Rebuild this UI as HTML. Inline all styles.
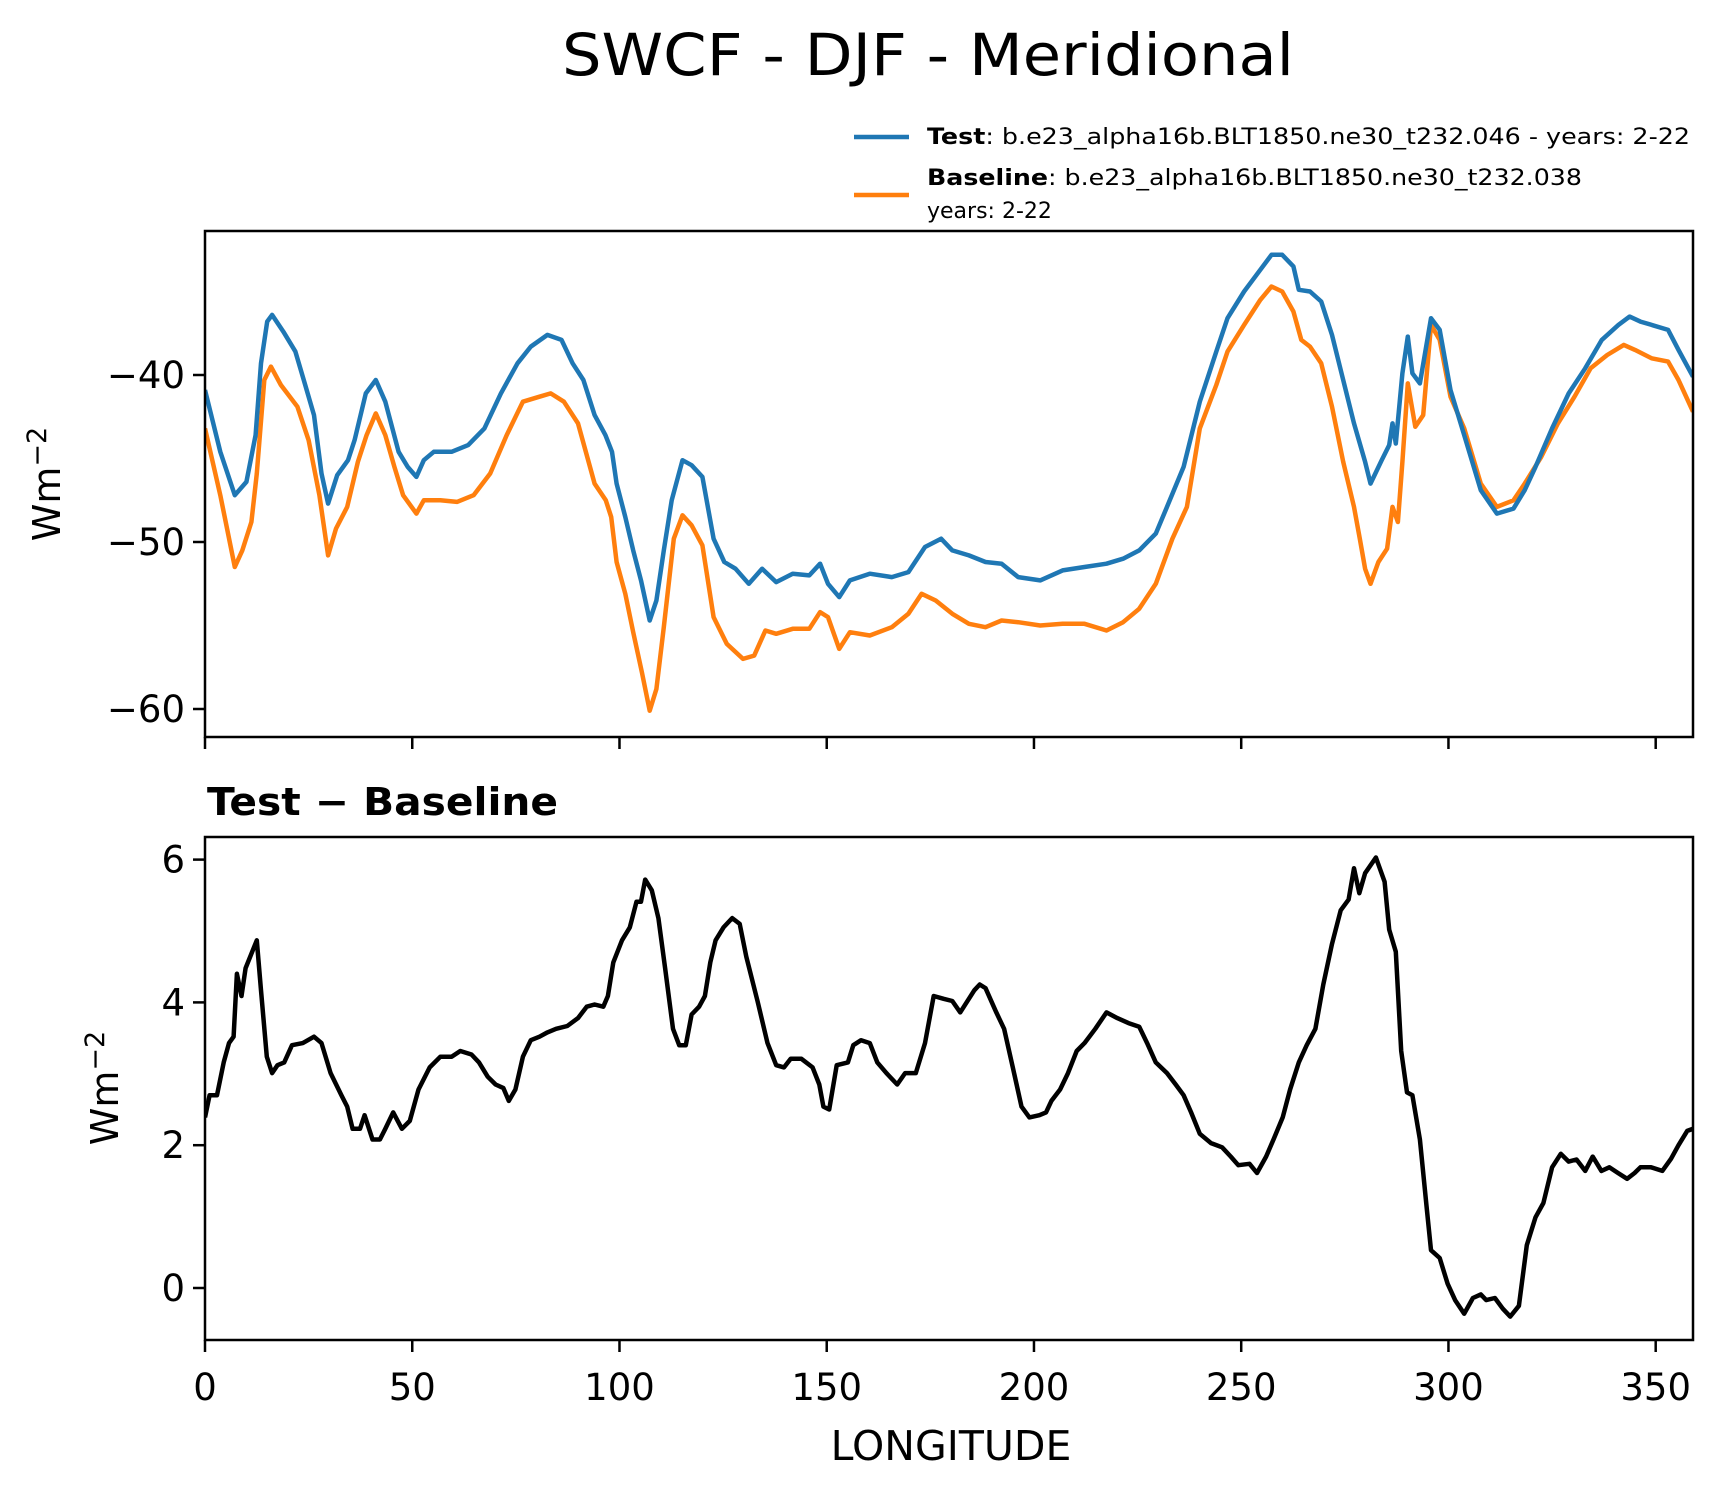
<!DOCTYPE html>
<html><head><meta charset="utf-8"><style>
html,body{margin:0;padding:0;background:#fff;}
svg{display:block;font-family:"DejaVu Sans","Liberation Sans",sans-serif;}
</style></head><body>
<svg id="chart" width="1726" height="1496" viewBox="0 0 1726 1496" xmlns="http://www.w3.org/2000/svg">
<text x="928" y="75" text-anchor="middle" font-size="58" textLength="732" lengthAdjust="spacingAndGlyphs">SWCF - DJF - Meridional</text>
<g>
<line x1="854" y1="137" x2="909" y2="137" stroke="#1f77b4" stroke-width="4.5"/>
<text x="927" y="144" font-size="22" textLength="763" lengthAdjust="spacingAndGlyphs"><tspan font-weight="bold">Test</tspan>: b.e23_alpha16b.BLT1850.ne30_t232.046 - years: 2-22</text>
<line x1="854" y1="195" x2="909" y2="195" stroke="#ff7f0e" stroke-width="4.5"/>
<text x="927" y="185" font-size="22" textLength="655" lengthAdjust="spacingAndGlyphs"><tspan font-weight="bold">Baseline</tspan>: b.e23_alpha16b.BLT1850.ne30_t232.038</text>
<text x="927" y="218" font-size="22">years: 2-22</text>
</g>
<g id="topPanel"></g>
<g id="botPanel"></g>
<text x="207" y="815" font-size="38" font-weight="bold" textLength="351" lengthAdjust="spacingAndGlyphs">Test − Baseline</text>
<text x="951" y="1460" text-anchor="middle" font-size="41">LONGITUDE</text>
<text transform="translate(60,484) rotate(-90)" text-anchor="middle" font-size="38">Wm<tspan dy="-14" font-size="27">−2</tspan></text>
<text transform="translate(118,1088) rotate(-90)" text-anchor="middle" font-size="38">Wm<tspan dy="-14" font-size="27">−2</tspan></text>
</svg>
<script>
const testLon=[0,3.7,7.2,10,12.2,13.5,15,16.2,18.9,21.8,23.6,26.3,28.1,29.7,31.9,34.5,36.1,38.8,41.2,43.5,46.7,48.9,51,52.8,55.2,59.5,63.5,67.4,71.4,75.4,78.6,82.6,86,88.7,91.3,94,96.6,98.2,99.3,101.4,103.3,105.2,107.3,108.9,110.7,112.6,115.2,117.4,120,122.7,125.3,128,131.2,134.4,137.8,141.8,145.8,148.4,150.3,153,155.6,160.4,165.7,169.7,173.7,177.6,180.3,184.3,188.3,192.2,196.2,201.5,206.9,212.2,217.5,221.5,225.4,229.4,232.1,236.1,240,244,246.7,250.7,254.6,257.3,259.9,262.6,263.9,266.6,269.3,271.9,274.6,277.2,279.9,281.2,283.9,285.7,286.5,287.3,288.9,290.2,291.3,293.1,295.8,297.9,300.5,303.8,307.8,311.7,315.7,318.4,321,325,329,333,337,341,343.7,346.3,349,353,355.5,359];
const testVal=[-40.9,-44.6,-47.2,-46.4,-43.6,-39.3,-36.8,-36.4,-37.4,-38.6,-40.1,-42.4,-45.9,-47.7,-46,-45.1,-43.9,-41.1,-40.3,-41.6,-44.6,-45.5,-46.1,-45.1,-44.6,-44.6,-44.2,-43.2,-41.1,-39.3,-38.3,-37.6,-37.9,-39.3,-40.3,-42.4,-43.6,-44.6,-46.5,-48.5,-50.5,-52.3,-54.7,-53.5,-50.5,-47.5,-45.1,-45.4,-46.1,-49.8,-51.2,-51.6,-52.5,-51.6,-52.4,-51.9,-52,-51.3,-52.5,-53.3,-52.3,-51.9,-52.1,-51.8,-50.3,-49.8,-50.5,-50.8,-51.2,-51.3,-52.1,-52.3,-51.7,-51.5,-51.3,-51,-50.5,-49.5,-47.9,-45.5,-41.6,-38.6,-36.6,-35,-33.7,-32.8,-32.8,-33.5,-34.9,-35,-35.6,-37.6,-40.3,-42.9,-45.2,-46.5,-45.1,-44.2,-42.9,-44.1,-39.9,-37.7,-39.9,-40.5,-36.6,-37.3,-40.9,-43.6,-46.9,-48.3,-48,-46.9,-45.5,-43.2,-41.1,-39.6,-37.9,-37,-36.5,-36.8,-37,-37.3,-38.5,-40.1];
const baseLon=[0,3.7,7.2,9,11.2,12.5,14.3,15.9,18.3,22.3,25,27.6,29.7,31.6,34.3,36.9,39,41.2,43.5,45.7,47.8,51,52.8,56.8,60.8,64.8,68.8,72.8,76.7,80.7,83.4,86.6,90,94,96.7,98,99.3,101.4,103.3,105.4,107.3,108.9,110.7,113.1,115.2,117.4,120,122.7,125.9,129.8,132.5,135.2,137.8,141.8,145.8,148.4,150.3,153,155.6,160.4,165.7,169.7,172.9,176.3,180.3,184.3,188.3,192.2,196.2,201.5,206.9,212.2,217.5,221.5,225.4,229.4,233.4,236.9,240,244,246.7,250.7,254.6,257.3,259.9,262.6,264.5,266.6,269.3,271.9,274.6,277.2,278.6,279.9,281.2,283.1,285.2,286.5,287.8,288.9,290.2,292,293.9,295.8,297.9,300.5,303.8,307.8,311.7,315.7,318.4,322.4,326.4,330.4,334.3,338.3,342.3,345,349,353,355.5,359];
const baseVal=[-43.2,-47.2,-51.5,-50.5,-48.8,-45.9,-40.3,-39.5,-40.6,-41.9,-43.9,-47.2,-50.8,-49.2,-47.9,-45.2,-43.6,-42.3,-43.6,-45.5,-47.2,-48.3,-47.5,-47.5,-47.6,-47.2,-45.9,-43.6,-41.6,-41.3,-41.1,-41.6,-42.9,-46.5,-47.5,-48.5,-51.2,-53.1,-55.4,-57.8,-60.1,-58.8,-55.1,-49.8,-48.4,-49,-50.2,-54.5,-56.1,-57,-56.8,-55.3,-55.5,-55.2,-55.2,-54.2,-54.5,-56.4,-55.4,-55.6,-55.1,-54.3,-53.1,-53.5,-54.3,-54.9,-55.1,-54.7,-54.8,-55,-54.9,-54.9,-55.3,-54.8,-54,-52.5,-49.8,-47.9,-43.2,-40.6,-38.6,-37,-35.5,-34.7,-35,-36.2,-37.9,-38.3,-39.3,-41.9,-45.2,-47.9,-49.8,-51.6,-52.5,-51.2,-50.4,-47.9,-48.8,-45.2,-40.5,-43.1,-42.4,-37,-37.9,-41.3,-43.2,-46.5,-47.9,-47.5,-46.5,-44.9,-42.9,-41.3,-39.6,-38.8,-38.2,-38.5,-39,-39.2,-40.3,-42.2];
const diffLon=[0,1.1,2.9,4.5,5.8,6.9,7.7,8.8,9.8,12.5,13.5,14.9,16.2,17.5,19.1,21,23.6,26.3,28.1,30.3,32.9,34.3,35.6,37.4,38.5,40.4,42.2,43.5,45.4,47.5,49.4,51.5,54.2,56.8,59.5,61.6,64.3,66.1,68.2,70.1,72,73.3,74.9,76.7,78.6,80.7,82.6,84.7,87.4,90,92.1,94,96.1,97.2,98.5,100.6,102.5,104.1,105.2,106.2,107.8,109.4,111,112.9,114.4,116,117.4,119.2,120.6,121.9,123.2,125.1,127.2,129,130.6,133.3,135.7,137.8,139.7,141.3,143.9,146.6,148.2,149.2,150.6,152.4,155.1,156.4,158.3,160.4,162.2,164.4,167,168.9,171.5,173.7,175.8,178.2,180.3,182.2,185.6,186.9,188.3,190.9,192.8,194.9,197,198.9,201.3,202.9,204.2,206.3,208.2,210.3,212.2,214.8,217.5,220.1,222.8,225.4,227.3,229.4,232.1,234.2,236.1,237.9,240,242.7,245.4,247.5,249.3,252,253.8,256,257.8,260,261.8,263.9,265.8,267.9,269.8,271.9,274,275.9,277.2,278.5,279.9,282.5,284.6,285.7,287.3,288.6,290,291.3,293.1,294.7,295.8,297.9,299.8,301.6,303.8,305.9,307.8,309.1,311.2,313.1,314.9,317,318.9,321,322.9,325,327.1,329,330.9,333,334.8,336.9,338.8,340.9,343.1,344.9,346.3,348.9,351.6,353.7,355.5,357.6,359];
const diffVal=[2.39,2.7,2.7,3.16,3.43,3.52,4.4,4.09,4.48,4.87,4.17,3.24,3.01,3.12,3.16,3.4,3.43,3.52,3.43,3.01,2.7,2.54,2.23,2.23,2.42,2.08,2.08,2.23,2.46,2.23,2.34,2.78,3.09,3.24,3.24,3.32,3.27,3.16,2.96,2.85,2.8,2.62,2.78,3.24,3.47,3.52,3.58,3.63,3.67,3.78,3.94,3.97,3.94,4.09,4.56,4.87,5.05,5.41,5.41,5.72,5.57,5.18,4.48,3.63,3.4,3.4,3.83,3.94,4.09,4.56,4.87,5.05,5.18,5.1,4.64,4.02,3.43,3.12,3.09,3.21,3.21,3.09,2.85,2.54,2.5,3.12,3.16,3.4,3.47,3.43,3.16,3.01,2.85,3.01,3.01,3.43,4.09,4.05,4.02,3.86,4.17,4.25,4.2,3.86,3.63,3.09,2.54,2.39,2.42,2.46,2.62,2.78,3.01,3.32,3.43,3.63,3.86,3.78,3.71,3.66,3.43,3.16,3.01,2.85,2.7,2.46,2.16,2.03,1.97,1.84,1.72,1.74,1.61,1.84,2.08,2.39,2.78,3.16,3.4,3.63,4.25,4.82,5.29,5.44,5.88,5.53,5.81,6.03,5.69,5.02,4.71,3.32,2.74,2.7,2.08,1.15,0.53,0.42,0.06,-0.17,-0.36,-0.14,-0.09,-0.17,-0.14,-0.29,-0.4,-0.25,0.6,0.99,1.19,1.69,1.88,1.77,1.8,1.64,1.84,1.64,1.69,1.61,1.53,1.61,1.69,1.69,1.64,1.81,2,2.2,2.23];
const xTicks=[0,50,100,150,200,250,300,350];
const topTicks=[-40,-50,-60];
const botTicks=[6,4,2,0];

(function(){
const NS="http://www.w3.org/2000/svg";
const L=205,R=1693,XMAX=359;
const xs=v=>L+(R-L)*v/XMAX;
const topY=v=>375-(v+40)*16.7;
const botY=v=>1288-v*71.4;
function mk(tag,attrs,parent){const e=document.createElementNS(NS,tag);for(const k in attrs)e.setAttribute(k,attrs[k]);parent.appendChild(e);return e;}
function panel(g,y1,yfun,ticks,showXLabels,pfx){
  for(const t of ticks){
    const y=yfun(t);
    const tk=mk('line',{x1:L-12,x2:L,y1:y,y2:y,stroke:'#000','stroke-width':2.5},g);
    
    
    const tx=mk('text',{x:L-20,y:y+13,'text-anchor':'end','font-size':37},g);
    
    
    tx.textContent=String(t).replace('-','−');
  }
  for(const t of xTicks){
    const x=xs(t);
    const tk=mk('line',{x1:x,x2:x,y1:y1,y2:y1+12,stroke:'#000','stroke-width':2.5},g);
    
    
    if(showXLabels){
      const tx=mk('text',{x:x,y:y1+60,'text-anchor':'middle','font-size':37},g);
      
      
      tx.textContent=String(t);
    }
  }
}
function drawLine(g,lon,val,yfun,color,name,clip){
  const d=lon.map((v,i)=>(i?'L':'M')+xs(v).toFixed(1)+','+yfun(val[i]).toFixed(1)).join('');
  const p=mk('path',{d:d,fill:'none',stroke:color,'stroke-width':4.5,'stroke-linejoin':'round','clip-path':'url(#'+clip+')'},g);
  
  
}
const svg=document.getElementById('chart');
const defs=mk('defs',{},svg);
const c1=mk('clipPath',{id:'ct'},defs);mk('rect',{x:L,y:231,width:R-L,height:506},c1);
const c2=mk('clipPath',{id:'cb'},defs);mk('rect',{x:L,y:837,width:R-L,height:503},c2);
const gTop=document.getElementById('topPanel');
const gBot=document.getElementById('botPanel');
drawLine(gTop,baseLon,baseVal,topY,'#ff7f0e','baseline-line','ct');
drawLine(gTop,testLon,testVal,topY,'#1f77b4','test-line','ct');
drawLine(gBot,diffLon,diffVal,botY,'#000','diff-line','cb');
const f1=mk('rect',{x:L,y:231,width:R-L,height:506,fill:'none',stroke:'#000','stroke-width':2.5},gTop);


const f2=mk('rect',{x:L,y:837,width:R-L,height:503,fill:'none',stroke:'#000','stroke-width':2.5},gBot);


panel(gTop,737,topY,topTicks,false,'top');
panel(gBot,1340,botY,botTicks,true,'bottom');
})();
</script>
</body></html>
